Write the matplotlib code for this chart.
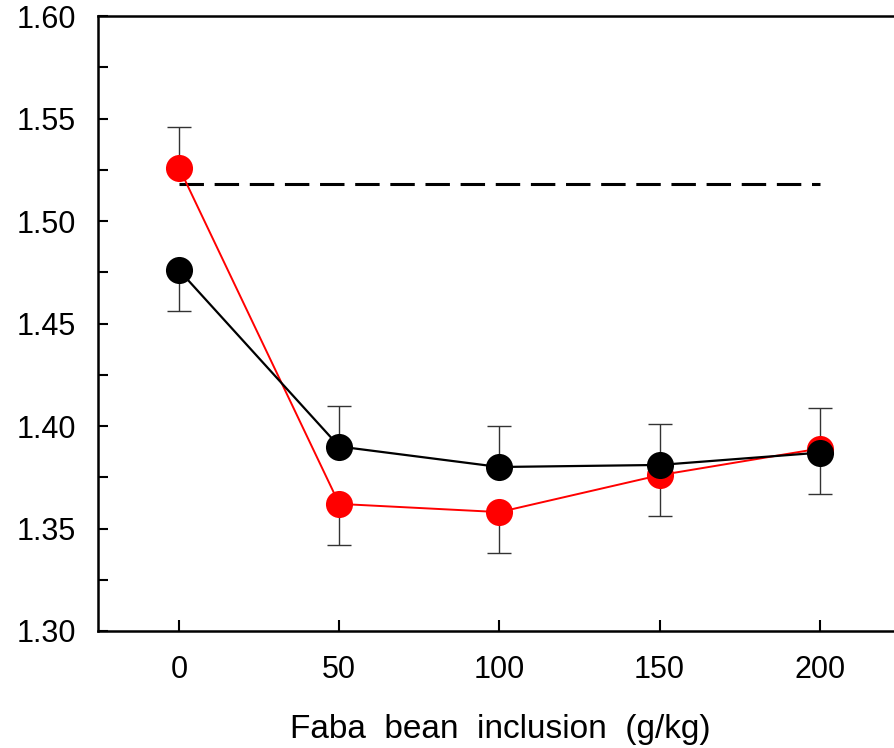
import numpy as np
import matplotlib.pyplot as plt
from matplotlib.ticker import MultipleLocator

plt.rcParams['font.family'] = ['Liberation Sans', 'DejaVu Sans']

# faba bean inclusion, g/kg
x = [0, 50, 100, 150, 200]
red = [1.526, 1.362, 1.358, 1.376, 1.389]
black = [1.476, 1.390, 1.380, 1.381, 1.387]
sem = 0.02
# error bar only drawn on the outer side of each pair
red_lo = [0, sem, sem, sem, 0]
red_hi = [sem, 0, 0, 0, sem]
black_lo = [sem, 0, 0, 0, sem]
black_hi = [0, sem, sem, sem, 0]
ref_level = 1.518

fig = plt.figure(figsize=(8.94, 7.48), dpi=100)
ax = fig.add_axes([98/894, 1 - 631/748, 1 - 98/894 + 0.01, 615/748])

ax.hlines(ref_level, 0, 200, colors='black', linestyles=(0, (8, 3.5)), linewidth=2.2, zorder=1)

ax.errorbar(x, red, yerr=[red_lo, red_hi], fmt='none', ecolor='#333333',
            elinewidth=1, capsize=8.5, capthick=1, zorder=2)
ax.errorbar(x, black, yerr=[black_lo, black_hi], fmt='none', ecolor='#333333',
            elinewidth=1, capsize=8.5, capthick=1, zorder=2)

ax.plot(x, red, color='red', linewidth=1.4, marker='o', markersize=19.5,
        markeredgewidth=0, zorder=3)
ax.plot(x, black, color='black', linewidth=1.6, marker='o', markersize=19.5,
        markeredgewidth=0, zorder=4)

ax.set_xlim(-25.3, 226)
ax.set_ylim(1.30, 1.60)
ax.set_xticks(x)
ax.yaxis.set_major_locator(MultipleLocator(0.05))
ax.yaxis.set_minor_locator(MultipleLocator(0.025))
ax.yaxis.set_major_formatter(plt.FormatStrFormatter('%.2f'))
ax.tick_params(axis='both', which='both', direction='in', width=1.5, labelsize=22)
ax.tick_params(axis='y', which='both', length=7, pad=16)
ax.tick_params(axis='x', length=8, pad=17)
ax.tick_params(top=False, right=False)
for s in ['left', 'bottom', 'top']:
    ax.spines[s].set_linewidth(1.8)
ax.spines['right'].set_visible(False)

ax.set_xlabel('Faba  bean  inclusion  (g/kg)', fontsize=24, labelpad=21)

fig.savefig('out.png', dpi=100)
